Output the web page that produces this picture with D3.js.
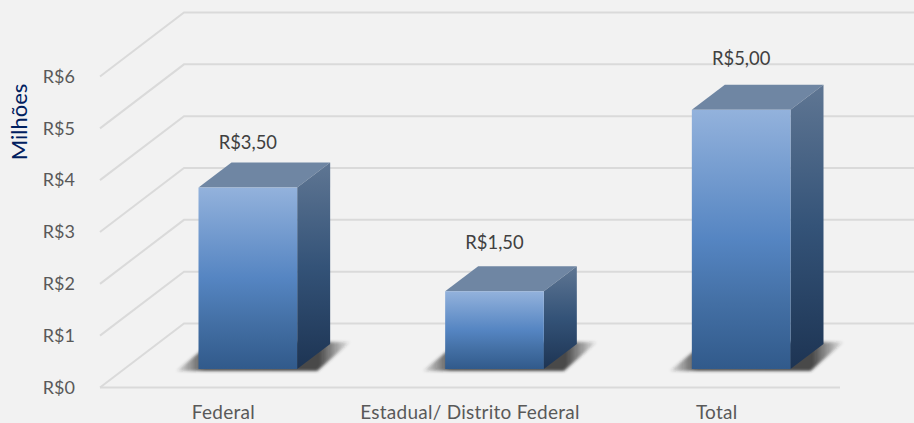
<!DOCTYPE html>
<html><head><meta charset="utf-8">
<script src="https://cdn.jsdelivr.net/npm/d3@7/dist/d3.min.js"></script>
<style>
html,body{margin:0;padding:0;background:#f2f2f2;overflow:hidden}
svg{display:block}
text{font-family:Lato,"Open Sans",sans-serif}
</style></head><body>
<svg id="c" width="914" height="423"></svg>
<script>
const categories = ["Federal", "Estadual/ Distrito Federal", "Total"];
const values = [3.5, 1.5, 5];
const tickValues = [0, 1, 2, 3, 4, 5, 6];
const valueLabels = ["R$3,50", "R$1,50", "R$5,00"];
const axisTitle = "Milhões";

const svg = d3.select("#c");
const W = 914, H = 423;
const floorY = 387.5, topY = 76.5, left = 100, right = 840;
const depth = {x: 84, y: -64};         // wall offset
const barInset = {x: 24.5, y: -18.5};  // bar front relative to floor front
const barDepth = {x: 33, y: -25};
const labelLift = [45, 49, 51];

const y = d3.scaleLinear().domain([0, 6]).range([floorY, topY]);
const x = d3.scaleBand().domain(categories).range([left, right]);
const barW = x.bandwidth() * 0.4;

const defs = svg.append("defs");
const front = defs.append("linearGradient").attr("id", "front").attr("x1", 0).attr("x2", 0).attr("y1", 0).attr("y2", 1);
[[0, "#93b2dc"], [0.5, "#5585c2"], [0.75, "#436fa4"], [1, "#315a8b"]].forEach(s => front.append("stop").attr("offset", s[0]).attr("stop-color", s[1]));
const side = defs.append("linearGradient").attr("id", "side").attr("x1", 0).attr("x2", 0).attr("y1", 0).attr("y2", 1);
[[0, "#5f7693"], [0.5, "#345378"], [1, "#1d3453"]].forEach(s => side.append("stop").attr("offset", s[0]).attr("stop-color", s[1]));
const shade = defs.append("linearGradient").attr("id", "shade").attr("x1", 0).attr("x2", 1).attr("y1", 0).attr("y2", 0);
[[0, 0.1], [0.16, 0.8], [0.82, 0.85], [1, 0.05]].forEach(s => shade.append("stop").attr("offset", s[0]).attr("stop-color", "#2a2a2a").attr("stop-opacity", s[1]));
defs.append("filter").attr("id", "blur").attr("x", "-20%").attr("y", "-30%").attr("width", "140%").attr("height", "160%")
  .append("feGaussianBlur").attr("stdDeviation", 1.6);

// Walls / floor grid
const grid = svg.append("g").attr("fill", "none").attr("stroke", "#dadada").attr("stroke-width", 2);
tickValues.forEach(v => {
  const line = [[left, y(v)], [left + depth.x, y(v) + depth.y], [W + 12, y(v) + depth.y]];
  grid.append("path").attr("d", d3.line()(line));
});
grid.append("path").attr("d", d3.line()([[left, y(0)], [right, y(0)]]));

const poly = pts => d3.line()(pts) + "Z";

// Bars
const bars = svg.append("g").selectAll("g").data(categories).join("g");
bars.each(function (c, i) {
  const g = d3.select(this);
  const x0 = x(c) + x.bandwidth() / 2 - barW / 2 + barInset.x;
  const x1 = x0 + barW;
  const base = y(0) + barInset.y;
  const top = y(values[i]) + barInset.y;
  const dx = barDepth.x, dy = barDepth.y;
  g.append("path")
    .attr("d", poly([[x0 - 22, base + 2], [x1 + 20, base + 2], [x1 + dx + 20, base + dy - 2], [x0 + dx - 20, base + dy - 2]]))
    .attr("fill", "url(#shade)").attr("filter", "url(#blur)");
  g.append("path").attr("d", poly([[x0, top], [x1, top], [x1 + dx, top + dy], [x0 + dx, top + dy]])).attr("fill", "#6f86a3");
  g.append("path").attr("d", poly([[x1, top], [x1 + dx, top + dy], [x1 + dx, base + dy], [x1, base]])).attr("fill", "url(#side)");
  g.append("rect").attr("x", x0).attr("y", top).attr("width", barW).attr("height", base - top).attr("fill", "url(#front)");
  g.append("text").attr("x", (x0 + x1) / 2).attr("y", top - labelLift[i]).attr("dy", "0.35em")
    .attr("text-anchor", "middle").attr("font-size", 18.4).attr("fill", "#404040").text(valueLabels[i]);
});

// Axes
const yAxis = svg.append("g").attr("transform", "translate(75,0)")
  .call(d3.axisLeft(y).tickValues(tickValues).tickSize(0).tickPadding(0).tickFormat(d => "R$" + d));
yAxis.select(".domain").remove();
yAxis.selectAll("text").attr("font-size", 18).attr("fill", "#595959").style("font-family", "Lato");

const xAxis = svg.append("g").attr("transform", "translate(0,405.3)")
  .call(d3.axisBottom(x).tickSize(0).tickPadding(0));
xAxis.select(".domain").remove();
xAxis.selectAll("text").attr("font-size", 19).attr("letter-spacing", 0.25).attr("fill", "#595959").style("font-family", "Lato");

svg.append("text").attr("transform", "translate(19,122) rotate(-90)").attr("dy", "0.35em")
  .attr("text-anchor", "middle").attr("font-size", 22).attr("fill", "#002060").text(axisTitle);
</script>
</body></html>
